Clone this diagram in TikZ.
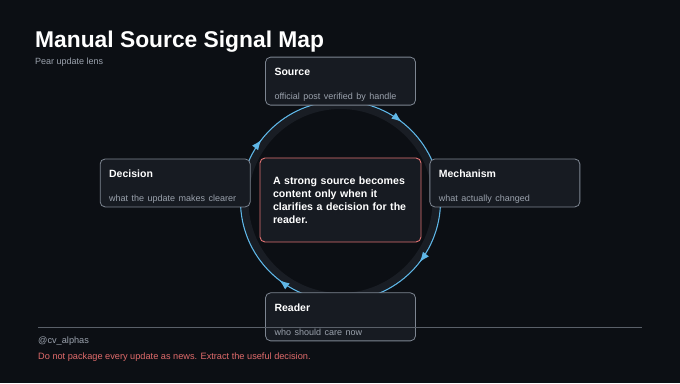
\documentclass[tikz,border=0pt]{standalone}
\usepackage{fontspec}
\setmainfont{Liberation Sans}
\usetikzlibrary{positioning,arrows.meta,decorations.markings}

\definecolor{bgdark}{HTML}{0C0F14}
\definecolor{cardfill}{HTML}{171B22}
\definecolor{cardline}{HTML}{7D8591}
\definecolor{subgray}{HTML}{9BA2AD}
\definecolor{flowblue}{HTML}{5FB6E6}
\definecolor{corered}{HTML}{E07272}
\definecolor{notered}{HTML}{E06B6B}
\definecolor{ruleline}{HTML}{5A6069}
\definecolor{ringshade}{HTML}{191D24}

\newcommand{\cardsub}{\mdseries\fontsize{9}{11}\selectfont\color{subgray}}

\begin{document}
\begin{tikzpicture}[
    x=1pt, y=1pt,
    node distance=50pt and 8pt,
    card/.style={draw=cardline, fill=cardfill, rounded corners=5pt, line width=0.8pt, minimum width=150pt, minimum height=48pt, text width=132pt, inner xsep=9pt, inner ysep=4pt, align=left, text=white, font=\fontsize{10.5}{12}\selectfont\bfseries},
    core/.style={draw=corered, fill=cardfill, rounded corners=5pt, line width=0.9pt, minimum width=161pt, minimum height=84pt, text width=135pt, inner xsep=13pt, align=left, text=white, font=\fontsize{10.6}{13}\selectfont\bfseries},
    flow/.style={draw=flowblue, line width=1.1pt, postaction={decorate}, decoration={markings, mark=at position 0.42 with {\arrow[flowblue, scale=1.3]{Latex}}}},
    note/.style={anchor=west, inner sep=0pt, font=\fontsize{9.2}{11}\selectfont},
]

% Background and frame
\fill[bgdark] (0,0) rectangle (680,383);
\useasboundingbox (0,0) rectangle (680,383);

% Heading
\node[anchor=base west, inner sep=0pt, text=white, font=\fontsize{22.8}{27}\selectfont\bfseries] (title) at (35,335) {Manual Source Signal Map};
\node[note, text=subgray, font=\fontsize{9}{11}\selectfont] (lens) at (35,321) {Pear update lens};

% Ring behind the cards
\node[circle, minimum size=200pt, inner sep=0pt, outer sep=0pt] (ring) at (340.5,182) {};
\draw[ringshade, line width=7pt] (ring.center) circle[radius=95.5pt];

% Clockwise flow
\draw[flow] (ring.180) arc[start angle=180, end angle=90, radius=100pt];
\draw[flow] (ring.90) arc[start angle=90, end angle=0, radius=100pt];
\draw[flow] (ring.0) arc[start angle=0, end angle=-90, radius=100pt];
\draw[flow] (ring.-90) arc[start angle=-90, end angle=-180, radius=100pt];

% Centre statement
\node[core] (core) at (340.5,183) {A strong source becomes\\content only when it\\clarifies a decision for the\\reader.};

% Four cards
\node[card, above=52pt of core] (src) {\rule{0pt}{14pt}Source\\[12pt]{\cardsub official post verified by handle}};
\node[card, left=9pt of core.north west, anchor=north east, yshift=-1pt] (dec) {\rule{0pt}{14pt}Decision\\[12pt]{\cardsub what the update makes clearer}};
\node[card, right=8pt of core.north east, anchor=north west, yshift=-1pt] (mech) {\rule{0pt}{14pt}Mechanism\\[12pt]{\cardsub what actually changed}};
\node[card, below=50pt of core] (rdr) {\rule{0pt}{14pt}Reader\\[12pt]{\cardsub who should care now}};

% Footer
\coordinate (ruleL) at (38,56);
\coordinate (ruleR) at (642,56);
\draw[ruleline, line width=0.8pt] (ruleL) -- (ruleR);
\node[note, text=subgray] (handle) at (38,42) {@cv\_alphas};
\node[note, text=notered] (moral) at (38,26) {Do not package every update as news. Extract the useful decision.};

\end{tikzpicture}
\end{document}
